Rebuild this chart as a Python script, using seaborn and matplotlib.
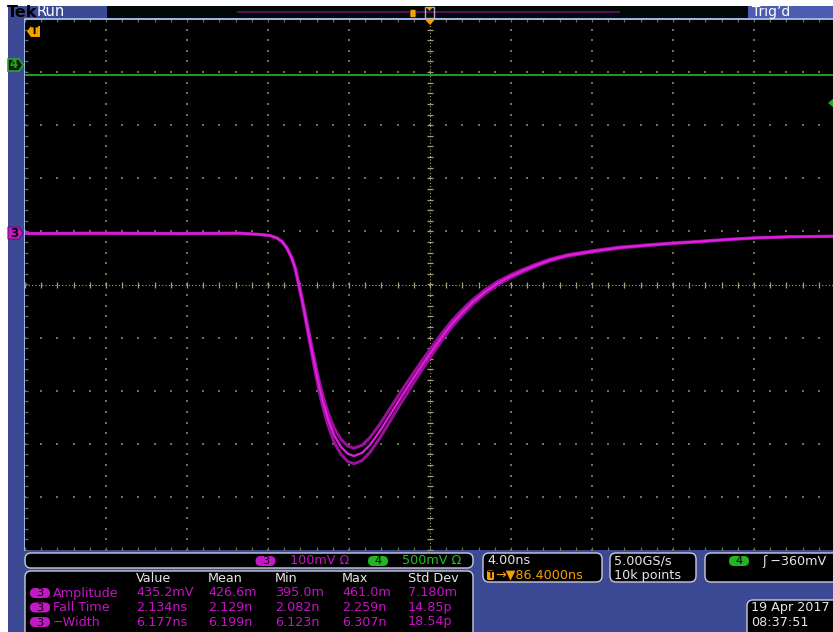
import numpy as np
import pandas as pd
import matplotlib
matplotlib.use("Agg")
import matplotlib.pyplot as plt
from matplotlib.patches import FancyBboxPatch, Rectangle, Polygon
from matplotlib.transforms import IdentityTransform
import seaborn as sns

# ---- acquired waveforms -------------------------------------------------
# Channel 3: time relative to screen centre (ns) and voltage (mV)
ch3_time_ns = [-20.0, -16.3, -12.35, -9.383, -8.395, -7.901, -7.556, -7.309,
               -7.062, -6.815, -6.667, -6.519, -6.370, -6.222, -6.074, -5.926,
               -5.778, -5.630, -5.481, -5.284, -5.037, -4.741, -4.395, -4.049,
               -3.753, -3.358, -2.963, -2.469, -1.975, -1.481, -0.840, -0.395,
               0.099, 0.593, 1.086, 1.580, 2.074, 2.667, 3.309, 3.951, 4.543,
               5.185, 5.926, 6.765, 8.049, 9.383, 10.716, 12.0, 13.333, 14.667,
               16.148, 17.778, 20.0]
ch3_mv = [0.0, 0.5, 0.0, 0.6, -1.9, -3.8, -8.5, -15.1,
          -27.4, -47.2, -64.2, -88.7, -115.1, -143.4, -172.6, -201.9,
          -231.1, -259.4, -285.8, -317.0, -349.1, -379.2, -401.9, -415.1,
          -418.9, -413.2, -398.1, -371.7, -341.5, -311.3, -273.6, -248.1,
          -220.8, -194.3, -169.8, -149.1, -130.2, -111.3, -94.3, -81.1, -70.8,
          -60.4, -50.0, -41.5, -33.4, -26.4, -22.1, -18.3, -15.1, -11.3,
          -8.1, -6.2, -5.1]
# Channel 4: flat level (mV)
ch4_time_ns = [-20.0, -10.0, 0.0, 10.0, 20.0]
ch4_mv = [-94, -94, -94, -94, -94]

# ---- vertical / horizontal settings -------------------------------------
ch3_mv_per_div = 100
ch4_mv_per_div = 500
ch3_position_div = 0.96
ch4_position_div = 4.13
trigger_level_mv = -360
ns_per_div = 4.0
persistence_gain = [0.965, 1.035]

measure_rows = ["Amplitude", "Fall Time", "\u2212Width"]
measure_cols = ["Value", "Mean", "Min", "Max", "Std Dev"]
measure_vals = [["435.2mV", "426.6m", "395.0m", "461.0m", "7.180m"],
                ["2.134ns", "2.129n", "2.082n", "2.259n", "14.85p"],
                ["6.177ns", "6.199n", "6.123n", "6.307n", "18.54p"]]

# ---- colours ------------------------------------------------------------
BLUE = "#3c4a96"
LIGHT_BLUE = "#9bb4e6"
MAGENTA = "#e01ee0"
MAGENTA_DIM = "#9a109a"
MAG_TEXT = "#c414c4"
MAG_PILL = "#c418c4"
GREEN = "#26a826"
GREEN_TEXT = "#22c022"
GREEN_PILL = "#22b422"
ORANGE = "#f5a000"
GRID = "#6e6c5a"
CENTRE = "#a8a07a"
WHITE_TXT = "#e6e6ea"
FS = 9.2

sns.set_theme(style="dark")
plt.rcParams["font.family"] = ["DejaVu Sans"]

W, H = 833, 632
DPI = 100
fig = plt.figure(figsize=(W / DPI, H / DPI), dpi=DPI, facecolor="white")
ID = IdentityTransform()


def fx(x):
    return x / W


def fy(y):
    return 1 - y / H


def rect(x0, y0, x1, y1, z=5, **kw):
    fig.add_artist(Rectangle((x0, H - y1), x1 - x0, y1 - y0, transform=ID,
                             zorder=z, **kw))


def rbox(x0, y0, x1, y1, r=6, z=5, **kw):
    fig.add_artist(FancyBboxPatch((x0, H - y1), x1 - x0, y1 - y0,
                                  boxstyle=f"round,pad=0,rounding_size={r}",
                                  transform=ID, zorder=z, **kw))


def poly(points, z=6, **kw):
    fig.add_artist(Polygon([(x, H - y) for x, y in points], closed=True,
                           transform=ID, zorder=z, **kw))


def txt(x, y, s, color=WHITE_TXT, size=FS, ha="left", **kw):
    fig.text(fx(x), fy(y), s, color=color, fontsize=size, ha=ha, va="center",
             zorder=8, **kw)


def pill(xc, yc, s, fc, tc="black", w=20, h=10):
    rbox(xc - w / 2, yc - h / 2, xc + w / 2, yc + h / 2, r=5, z=7, fc=fc, ec="none")
    txt(xc, yc + 0.5, s, color=tc, size=8.2, ha="center")


# instrument frame (behind everything)
rect(8, 6, W + 2, H + 2, z=-10, fc=BLUE, ec="none")

# ---- screen -------------------------------------------------------------
ax = fig.add_axes([fx(25), fy(550), 810 / W, 531 / H])
ax.set_zorder(1)
ax.set_facecolor("black")
for s in ax.spines.values():
    s.set_visible(False)
ax.grid(False)

minor_x = np.arange(-20, 20.001, ns_per_div / 5)
minor_y = np.arange(-5, 5.001, 0.2)
major_x = [v for v in np.arange(-16, 16.1, ns_per_div) if abs(v) > 1e-9]
major_y = [v for v in np.arange(-4, 4.1, 1.0) if abs(v) > 1e-9]

for xv in major_x:
    ax.scatter(np.full_like(minor_y, xv), minor_y, s=1.2, marker="s",
               color=GRID, linewidths=0, zorder=1)
for yv in major_y:
    ax.scatter(minor_x, np.full_like(minor_x, yv), s=1.2, marker="s",
               color=GRID, linewidths=0, zorder=1)

# centre crosshair with minor ticks
ax.axvline(0, color=CENTRE, lw=0.8, ls=(0, (1, 2)), zorder=1)
ax.axhline(0, color=CENTRE, lw=0.8, ls=(0, (1, 2)), zorder=1)
ax.plot(np.zeros_like(minor_y), minor_y, ls="none", marker="_", ms=5,
        mew=0.9, color=CENTRE, zorder=1)
ax.plot(minor_x, np.zeros_like(minor_x), ls="none", marker="|", ms=5,
        mew=0.9, color=CENTRE, zorder=1)

# edge ticks
ax.plot(minor_x, np.full_like(minor_x, 5), ls="none", marker="|", ms=5,
        mew=0.9, color=GRID, zorder=1)
ax.plot(minor_x, np.full_like(minor_x, -5), ls="none", marker="|", ms=5,
        mew=0.9, color=GRID, zorder=1)
ax.plot(np.full_like(minor_y, -20), minor_y, ls="none", marker="_", ms=5,
        mew=0.9, color=GRID, zorder=1)

# ---- traces -------------------------------------------------------------
ch3 = pd.DataFrame({"t": ch3_time_ns, "mv": ch3_mv})
ch4 = pd.DataFrame({"t": ch4_time_ns, "mv": ch4_mv})

for g in persistence_gain:
    band = ch3.assign(div=ch3["mv"] * g / ch3_mv_per_div + ch3_position_div)
    sns.lineplot(data=band, x="t", y="div", ax=ax, color=MAGENTA_DIM, lw=2.2,
                 estimator=None, sort=False, zorder=3)
ch3["div"] = ch3["mv"] / ch3_mv_per_div + ch3_position_div
sns.lineplot(data=ch3, x="t", y="div", ax=ax, color=MAGENTA, lw=1.6,
             estimator=None, sort=False, zorder=4)

ch4["div"] = ch4["mv"] / ch4_mv_per_div + ch4_position_div
sns.lineplot(data=ch4, x="t", y="div", ax=ax, color=GREEN, lw=1.3,
             estimator=None, sort=False, zorder=4)
ax.set_xlabel("")
ax.set_ylabel("")
ax.set_xticks([])
ax.set_yticks([])
ax.set_xlim(-20, 20)
ax.set_ylim(-5, 5)

# trigger level marker on right edge
trig_div = trigger_level_mv / ch4_mv_per_div + ch4_position_div
trig_y = 284 - trig_div * 53.1
poly([(828, trig_y), (834, trig_y - 5), (834, trig_y + 5)], fc=GREEN, ec="none")

# screen borders
rect(24, 18, W + 2, 19.6, fc=LIGHT_BLUE, ec="none")
rect(24, 18, 25.4, 551, fc=LIGHT_BLUE, ec="none")

# ---- top status bar -----------------------------------------------------
txt(7, 12.5, "Tek", color="black", size=11.5, weight="bold")
txt(37, 12, "Run", color="white", size=10.5)
rect(107, 6, 748, 18, fc="#020805", ec="none")
rect(237, 11.3, 620, 13.3, fc="#5a0c5a", ec="none")
rbox(410, 9.5, 416, 17.5, r=1.5, fc=ORANGE, ec="#222222", lw=0.6)
rect(425, 7, 434, 17.5, fc="none", ec="#b0b0b8", lw=1.0)
poly([(427, 8), (432, 8), (429.5, 11)], fc=ORANGE, ec="none")
poly([(425, 19.5), (435, 19.5), (430, 25)], fc=ORANGE, ec="none")
rect(748, 6, W + 2, 18, fc="#4d5cb0", ec="none")
txt(752, 12, "Trig\u2019d", color="white", size=10)

# ---- channel markers on left -------------------------------------------
poly([(27, 31.5), (31, 26), (40, 26), (40, 37), (31, 37)], fc=ORANGE, ec="none")
txt(34.5, 31.5, "T", color="black", size=7.5, ha="center", weight="bold")
poly([(8, 59), (19, 59), (23, 65), (19, 71), (8, 71)], fc="#0a1f0a", ec=GREEN, lw=1.2)
txt(14, 65, "4", color=GREEN, size=8.5, ha="center", weight="bold")
y3 = 284 - ch3_position_div * 53.1
poly([(8, y3 - 6), (19, y3 - 6), (23, y3), (19, y3 + 6), (8, y3 + 6)],
     fc=MAG_PILL, ec="#7a0a7a", lw=0.8)
txt(14, y3, "3", color="black", size=8.5, ha="center", weight="bold")

# ---- bottom panels ------------------------------------------------------
BOX_EC = "#c9ccd6"
rbox(25, 553, 473, 568, r=6, fc="black", ec=BOX_EC, lw=1)
pill(265.5, 561, "3", MAG_PILL)
txt(290, 560.5, "100mV \u03a9", color=MAG_TEXT)
pill(378, 561, "4", GREEN_PILL)
txt(402, 560.5, "500mV \u03a9", color=GREEN_TEXT)

rbox(25, 571, 473, 645, r=6, fc="black", ec=BOX_EC, lw=1)
col_x = [136, 208, 275, 342, 408]
for cx, name in zip(col_x, measure_cols):
    txt(cx, 578, name, color=WHITE_TXT)
row_y = [593, 607.5, 622]
for ry, name, vals in zip(row_y, measure_rows, measure_vals):
    pill(40, ry, "3", MAG_PILL)
    txt(53, ry, name, color=MAG_TEXT)
    for cx, v in zip(col_x, vals):
        txt(cx, ry, v, color=MAG_TEXT)

rbox(483, 553, 602, 582, r=6, fc="black", ec=BOX_EC, lw=1)
txt(487, 561, "4.00ns", color=WHITE_TXT)
rbox(487, 570.5, 494, 580, r=1.5, z=7, fc=ORANGE, ec="none")
txt(490.5, 575.5, "T", color="black", size=6.5, ha="center", weight="bold")
txt(495, 575, "\u2192\u25bc86.4000ns", color=ORANGE)

rbox(610, 553, 696, 582, r=6, fc="black", ec=BOX_EC, lw=1)
txt(614, 561, "5.00GS/s", color=WHITE_TXT)
txt(614, 575, "10k points", color=WHITE_TXT)

rbox(705, 553, 845, 582, r=6, fc="black", ec=BOX_EC, lw=1)
pill(739, 561, "4", GREEN_PILL)
txt(762, 561, "\u0283 \u2212360mV", color=WHITE_TXT)

rbox(747, 600, 845, 645, r=6, fc="black", ec=BOX_EC, lw=1)
txt(751, 608, "19 Apr 2017", color=WHITE_TXT)
txt(751, 622, "08:37:51", color=WHITE_TXT)

fig.savefig("out.png", dpi=DPI, facecolor="white")
